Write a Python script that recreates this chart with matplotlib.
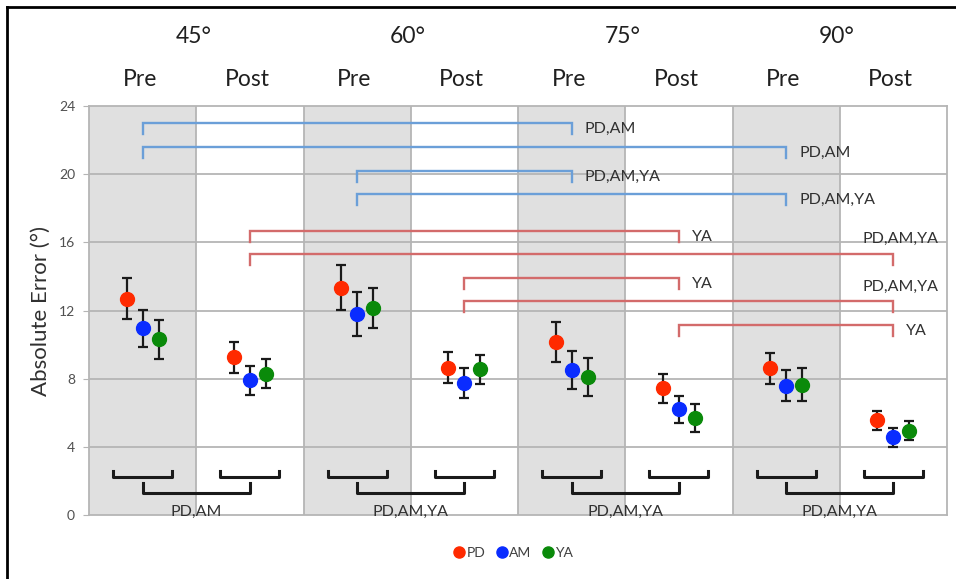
import matplotlib.pyplot as plt
from matplotlib.lines import Line2D
import numpy as np

plt.rcParams['font.family'] = ['Lato', 'DejaVu Sans']

angles = ['45°', '60°', '75°', '90°']
phases = ['Pre', 'Post']
groups = ['PD', 'AM', 'YA']
group_colors = ['#ff2a00', '#0a2cff', '#0a8a0a']

# columns: 45 Pre, 45 Post, 60 Pre, 60 Post, 75 Pre, 75 Post, 90 Pre, 90 Post
pd_mean = [12.7, 9.25, 13.35, 8.65, 10.15, 7.45, 8.6, 5.55]
pd_err = [1.2, 0.9, 1.33, 0.9, 1.19, 0.85, 0.92, 0.56]
am_mean = [10.95, 7.9, 11.8, 7.75, 8.5, 6.2, 7.6, 4.55]
am_err = [1.1, 0.84, 1.27, 0.86, 1.1, 0.78, 0.89, 0.54]
ya_mean = [10.3, 8.3, 12.15, 8.55, 8.1, 5.7, 7.65, 4.95]
ya_err = [1.13, 0.84, 1.2, 0.85, 1.12, 0.8, 0.95, 0.54]

# significant differences between angles (column index pairs)
pre_pairs = [(0, 4), (0, 6), (2, 4), (2, 6)]
pre_labels = ['PD,AM', 'PD,AM', 'PD,AM,YA', 'PD,AM,YA']
post_pairs = [(1, 5), (1, 7), (3, 5), (3, 7), (5, 7)]
post_labels = ['YA', 'PD,AM,YA', 'YA', 'PD,AM,YA', 'YA']
# significant differences Pre vs Post within each angle
prepost_labels = ['PD,AM', 'PD,AM,YA', 'PD,AM,YA', 'PD,AM,YA']

fig = plt.figure(figsize=(9.56, 5.79), dpi=100)
ax = fig.add_axes([0.0931, 0.1105, 0.8975, 0.7064])

n_col = len(angles) * len(phases)
centers = np.arange(n_col) + 0.5

# shaded Pre columns
for i in range(0, n_col, 2):
    ax.axvspan(i, i + 1, color='#e0e0e0', zorder=0, lw=0)

ax.set_xlim(0, n_col)
ax.set_ylim(0, 24)
ax.set_yticks(np.arange(0, 25, 4))
ax.set_xticks([])
for y in np.arange(4, 24, 4):
    ax.axhline(y, color='#b5b5b5', lw=1.3, zorder=1)
for x in range(1, n_col):
    ax.axvline(x, color='#b5b5b5', lw=1.3, zorder=1)
for s in ax.spines.values():
    s.set_color('#b5b5b5')
    s.set_linewidth(1.3)
ax.tick_params(axis='y', length=4, color='#b5b5b5', labelsize=10, labelcolor='#505050', pad=6)
ax.set_ylabel('Absolute Error (°)', fontsize=16, color='#303030', labelpad=6)

# data points
means = [pd_mean, am_mean, ya_mean]
errs = [pd_err, am_err, ya_err]
offsets = [-0.15, 0.0, 0.15]
for m, e, c, off in zip(means, errs, group_colors, offsets):
    ax.errorbar(centers + off, m, yerr=e, fmt='o', color=c, ms=10, mec=c,
                ecolor='#1a1a1a', elinewidth=1.6, capsize=3.5, capthick=1.6, zorder=5)

# brackets between angles
def bracket(i, j, level, label, color, above=False):
    x0, x1 = centers[i], centers[j]
    ax.plot([x0, x0, x1, x1], [level - 0.65, level, level, level - 0.65],
            color=color, lw=1.7, zorder=3, solid_joinstyle='miter')
    if above:
        ax.text(x1 + 0.07, level + 0.85, label, ha='center', va='center',
                fontsize=11.5, color='#303030', zorder=6)
    else:
        ax.text(x1 + 0.12, level - 0.33, label, ha='left', va='center',
                fontsize=11.5, color='#303030', zorder=6)

pre_levels = [23.0, 21.6, 20.2, 18.82]
for (i, j), lab, lev in zip(pre_pairs, pre_labels, pre_levels):
    bracket(i, j, lev, lab, '#6b9fd8')

post_levels = [16.67, 15.34, 13.89, 12.56, 11.15]
for (i, j), lab, lev in zip(post_pairs, post_labels, post_levels):
    bracket(i, j, lev, lab, '#d36b6b', above=(j == 7 and i != 5))

# Pre vs Post brackets
for k, lab in enumerate(prepost_labels):
    for col in (2 * k, 2 * k + 1):
        x0, x1 = centers[col] - 0.275, centers[col] + 0.275
        ax.plot([x0, x0, x1, x1], [2.6, 2.25, 2.25, 2.6], color='#1a1a1a', lw=2.2, zorder=4)
    x0, x1 = centers[2 * k], centers[2 * k + 1]
    ax.plot([x0, x0, x1, x1], [1.9, 1.27, 1.27, 1.9], color='#1a1a1a', lw=2.2, zorder=4)
    ax.text(2 * k + 1, 0.2, lab, ha='center', va='center', fontsize=11.5,
            color='#303030', zorder=6, clip_on=False)

# column headers
def fx(x):
    return 0.0931 + 0.8975 * x / n_col - 0.003

for k, a in enumerate(angles):
    fig.text(fx(2 * k + 1), 0.937, a, ha='center', va='center', fontsize=16.5, color='#202020')
    for p, ph in enumerate(phases):
        fig.text(fx(2 * k + p + 0.5), 0.862, ph, ha='center', va='center', fontsize=16.5, color='#202020')

# legend
handles = [Line2D([], [], ls='none', marker='o', ms=8, color=c) for c in group_colors]
fig.legend(handles, groups, loc='center', bbox_to_anchor=(0.536, 0.045), ncol=3, frameon=False,
           fontsize=10, handletextpad=0.0, columnspacing=0.7, handlelength=1.0,
           labelcolor='#404040')

# outer frame (left and top edges visible)
fig.add_artist(Line2D([0.0075, 0.0075], [0.0, 0.988], color='black', lw=2, transform=fig.transFigure))
fig.add_artist(Line2D([0.0075, 1.0], [0.988, 0.988], color='black', lw=2, transform=fig.transFigure))

plt.savefig('out.png', dpi=100)
